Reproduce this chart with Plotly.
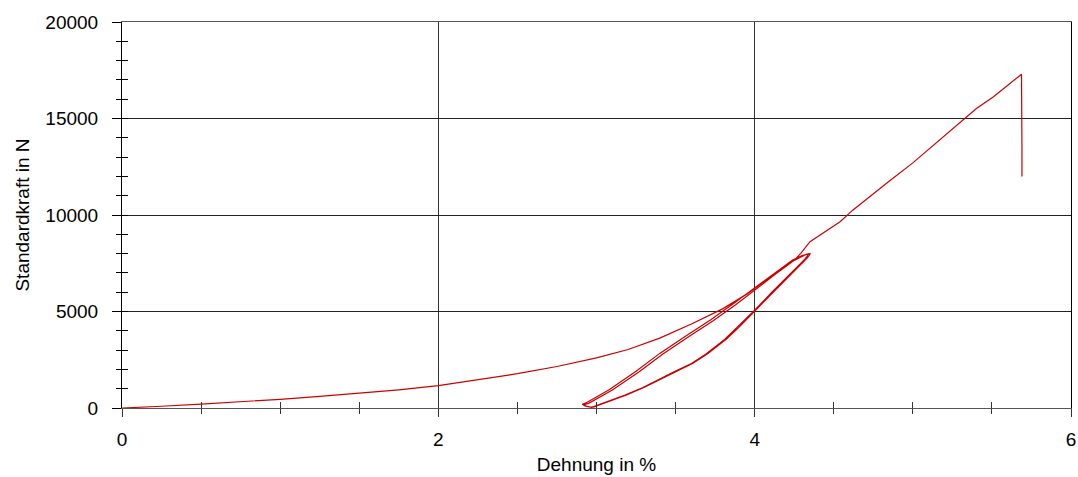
import plotly.graph_objects as go

# Initial loading branch
x_load = [0.0, 0.1, 0.25, 0.5, 0.75, 1.0, 1.25, 1.5, 1.75, 2.0, 2.25, 2.5, 2.75, 3.0, 3.2, 3.4, 3.6, 3.8, 3.95, 4.05, 4.15, 4.25, 4.33]
y_load = [0, 25, 90, 205, 320, 450, 600, 760, 940, 1155, 1450, 1780, 2150, 2600, 3030, 3620, 4350, 5150, 5900, 6500, 7100, 7650, 7980]

# Cycle 1: unloading and reloading
x_unload1 = [4.35, 4.345, 4.33, 4.29, 4.20, 4.12, 4.01, 3.90, 3.82, 3.70, 3.61, 3.50, 3.40, 3.30, 3.19, 3.10, 3.02, 2.98, 2.93, 2.91]
y_unload1 = [8000, 7900, 7750, 7410, 6680, 6020, 5080, 4180, 3560, 2800, 2315, 1880, 1470, 1060, 680, 400, 155, 40, 90, 190]
x_reload1 = [2.93, 3.08, 3.25, 3.40, 3.56, 3.72, 3.86, 4.00, 4.12, 4.24, 4.30, 4.33, 4.35]
y_reload1 = [250, 950, 1900, 2830, 3700, 4560, 5370, 6200, 6950, 7670, 7900, 7980, 8000]

# Cycle 2: unloading and reloading
x_unload2 = [4.34, 4.335, 4.32, 4.28, 4.19, 4.11, 4.00, 3.89, 3.81, 3.69, 3.60, 3.49, 3.39, 3.29, 3.18, 3.09, 3.01, 2.97, 2.94, 2.92]
y_unload2 = [7990, 7890, 7740, 7400, 6670, 6010, 5070, 4170, 3550, 2790, 2305, 1870, 1460, 1050, 670, 390, 145, 30, 80, 170]
x_reload2 = [2.95, 3.10, 3.27, 3.42, 3.58, 3.74, 3.88, 4.01, 4.13, 4.25]
y_reload2 = [240, 930, 1880, 2800, 3680, 4540, 5350, 6180, 6930, 7650]

# Final loading to break
x_final = [4.29, 4.35, 4.45, 4.54, 4.62, 4.70, 4.85, 5.00, 5.15, 5.30, 5.40, 5.51, 5.60, 5.687, 5.69, 5.69, 5.69, 5.69]
y_final = [8000, 8620, 9150, 9650, 10250, 10780, 11750, 12700, 13750, 14830, 15500, 16130, 16700, 17290, 13400, 12000, 13300, 12050]

x_all = x_load + x_unload1 + x_reload1 + x_unload2 + x_reload2 + x_final
y_all = y_load + y_unload1 + y_reload1 + y_unload2 + y_reload2 + y_final

x_range = [0, 6]
y_range = [0, 20000]

FONT = "Liberation Sans, Arial, sans-serif"

fig = go.Figure()
fig.add_trace(go.Scatter(x=x_all, y=y_all, mode="lines",
                         line=dict(color="#CC0000", width=1.2),
                         showlegend=False, hoverinfo="skip"))
fig.add_trace(go.Scatter(x=[], y=[], xaxis="x2", yaxis="y2", showlegend=False))

fig.update_layout(
    width=1078, height=477,
    margin=dict(l=122, r=7, t=22, b=69),
    plot_bgcolor="white", paper_bgcolor="white",
    font=dict(family=FONT, size=19, color="black"),
    xaxis=dict(range=x_range, dtick=2, tick0=0, showgrid=True, gridcolor="#333333", gridwidth=1,
               zeroline=False, showline=True, linecolor="#555555", linewidth=1, mirror=True,
               ticks="outside", ticklen=8, tickcolor="#333333", tickformat="d",
               minor=dict(dtick=0.5, ticks="outside", ticklen=5, tickcolor="#333333", showgrid=False),
               ticklabelstandoff=6, automargin=False,
               title=dict(text="Dehnung in %", font=dict(size=19), standoff=8)),
    yaxis=dict(range=y_range, dtick=5000, tick0=0, showgrid=True, gridcolor="#222222", gridwidth=1,
               zeroline=False, showline=True, linecolor="black", linewidth=1, mirror=True,
               ticks="outside", ticklen=9, tickcolor="black", tickformat="d",
               minor=dict(dtick=1000, ticks="outside", ticklen=5, tickcolor="black", showgrid=False),
               ticklabelstandoff=10, automargin=False,
               title=dict(text="Standardkraft in N", font=dict(size=19), standoff=10)),
    xaxis2=dict(range=x_range, overlaying="x", dtick=0.5, tick0=0, ticks="inside", ticklen=6,
                tickcolor="#333333", showticklabels=False, showgrid=False, zeroline=False,
                showline=False, side="bottom", anchor="y"),
    yaxis2=dict(range=y_range, overlaying="y", dtick=1000, tick0=0, ticks="inside", ticklen=6,
                tickcolor="black", showticklabels=False, showgrid=False, zeroline=False,
                showline=False, side="left", anchor="x"),
)

fig.write_html("out.html")
